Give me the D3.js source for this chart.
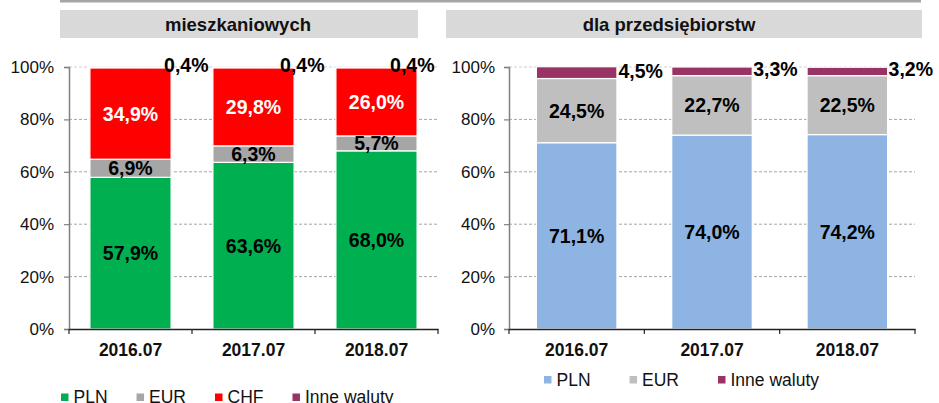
<!DOCTYPE html>
<html>
<head>
<meta charset="utf-8">
<script src="https://cdn.jsdelivr.net/npm/d3@7"></script>
<style>
  body { margin: 0; background: #fff; }
  svg { display: block; font-family: "Liberation Sans", Arial, sans-serif; }
</style>
</head>
<body>
<svg id="chart" width="939" height="403"></svg>
<script>
// data
const categories = ["2016.07", "2017.07", "2018.07"];
const yTicks = [0, 20, 40, 60, 80, 100];

const housingTitle = "mieszkaniowych";
const housingPLN = [57.9, 63.6, 68.0];
const housingEUR = [6.9, 6.3, 5.7];
const housingCHF = [34.9, 29.8, 26.0];
const housingOther = [0.4, 0.4, 0.4];

const firmsTitle = "dla przedsiębiorstw";
const firmsPLN = [71.1, 74.0, 74.2];
const firmsEUR = [24.5, 22.7, 22.5];
const firmsOther = [4.5, 3.3, 3.2];

const seriesNames = { PLN: "PLN", EUR: "EUR", CHF: "CHF", Other: "Inne waluty" };

const svg = d3.select("#chart");
const fmt = v => d3.format(".1f")(v).replace(".", ",") + "%";

// top rule
svg.append("rect").attr("x", 60).attr("y", 0).attr("width", 861).attr("height", 2.5).attr("fill", "#a6a6a6");

function drawPanel(p) {
  const rows = categories.map((c, i) => {
    const r = { cat: c };
    p.keys.forEach(k => r[k] = p.values[k][i]);
    return r;
  });

  const x = d3.scaleBand().domain(categories).range(p.xRange)
    .paddingInner(p.padIn).paddingOuter(p.padIn / 2);
  const y = d3.scaleLinear().domain([0, 100]).range([329, 67]);

  // title box
  svg.append("rect").attr("x", p.box[0]).attr("y", 10).attr("width", p.box[1] - p.box[0]).attr("height", 28)
    .attr("fill", "#d9d9d9");
  svg.append("text").attr("x", p.titleX).attr("y", 31).attr("text-anchor", "middle")
    .attr("font-weight", "bold").attr("font-size", 18.5).attr("fill", "#111").text(p.title);

  const g = svg.append("g");

  // grid
  g.selectAll(".grid").data(yTicks.filter(t => t > 0)).enter().append("line")
    .attr("x1", p.xRange[0]).attr("x2", p.xRange[1])
    .attr("y1", d => y(d)).attr("y2", d => y(d))
    .attr("stroke", d => d === 100 ? "#cfcfcf" : "#a6a6a6").attr("stroke-width", 1)
    .attr("stroke-dasharray", "3,2");

  // bars
  const stack = d3.stack().keys(p.keys)(rows);
  const layers = g.selectAll(".layer").data(stack).enter().append("g")
    .attr("fill", d => p.colors[d.key]);
  layers.selectAll("rect").data(d => d).enter().append("rect")
    .attr("x", d => x(d.data.cat))
    .attr("width", x.bandwidth())
    .attr("y", d => y(d[1]))
    .attr("height", d => y(d[0]) - y(d[1]))
    .attr("stroke", "#fff").attr("stroke-width", 1.2);

  // inside labels
  stack.forEach(layer => {
    if (layer.key === "Other") return;
    g.selectAll(null).data(layer).enter().append("text")
      .attr("x", d => x(d.data.cat) + x.bandwidth() / 2)
      .attr("y", d => (y(d[0]) + y(d[1])) / 2)
      .attr("dy", "0.36em")
      .attr("text-anchor", "middle")
      .attr("font-weight", "bold").attr("font-size", 19.5)
      .attr("fill", p.labelColors[layer.key])
      .text(d => fmt(d.data[layer.key]));
  });

  // "other currencies" labels beside the bar top
  const other = stack.find(l => l.key === "Other");
  g.selectAll(null).data(other).enter().append("text")
    .attr("x", (d, i) => x(d.data.cat) + x.bandwidth() + p.otherNudge[i])
    .attr("y", d => (y(d[0]) + y(d[1])) / 2 + p.otherDy)
    .attr("dy", "0.36em")
    .attr("font-weight", "bold").attr("font-size", 19.5).attr("fill", "#000")
    .text(d => fmt(d.data.Other));

  // y axis
  const ya = g.append("g").attr("transform", `translate(${p.xRange[0]},0)`)
    .call(d3.axisLeft(y).tickValues(yTicks).tickFormat(d => d + "%").tickSize(5).tickPadding(p.yPad));
  ya.select(".domain").attr("stroke", "#808080").attr("stroke-width", 1.5);
  ya.selectAll(".tick line").attr("stroke", "#808080").attr("stroke-width", 1.2);
  ya.selectAll(".tick text").attr("font-size", 17).attr("fill", "#111").attr("font-family", null);

  // x axis
  const xa = g.append("g").attr("transform", "translate(0,329)")
    .call(d3.axisBottom(x).tickSize(0).tickPadding(15));
  xa.select(".domain").attr("stroke", "#222").attr("stroke-width", 1.5);
  xa.selectAll(".tick text").attr("font-size", 17.5).attr("font-weight", "bold")
    .attr("fill", "#111").attr("font-family", null);
  const bounds = d3.range(categories.length + 1).map(i => p.xRange[0] + i * x.step());
  xa.selectAll(".bound").data(bounds).enter().append("line")
    .attr("x1", d => d).attr("x2", d => d).attr("y1", 0).attr("y2", 5)
    .attr("stroke", "#222").attr("stroke-width", 1.2);

  // legend
  let lx = p.legendX;
  p.keys.forEach(k => {
    svg.append("rect").attr("x", lx).attr("y", p.legendY - 9.5).attr("width", 7.5).attr("height", 7.5)
      .attr("fill", p.colors[k]);
    const t = svg.append("text").attr("x", lx + 12.5).attr("y", p.legendY)
      .attr("font-size", 17.5).attr("fill", "#111").text(seriesNames[k]);
    lx += 12.5 + t.node().getComputedTextLength() + p.legendGap;
  });
}

drawPanel({
  title: housingTitle, box: [60, 418], titleX: 238,
  keys: ["PLN", "EUR", "CHF", "Other"],
  values: { PLN: housingPLN, EUR: housingEUR, CHF: housingCHF, Other: housingOther },
  colors: { PLN: "#00b050", EUR: "#a6a6a6", CHF: "#ff0000", Other: "#993366" },
  labelColors: { PLN: "#000", EUR: "#000", CHF: "#fff" },
  xRange: [69, 438], padIn: 0.34, yPad: 10,
  otherNudge: [-7, -14, -27], otherDy: -2.5,
  legendX: 61, legendY: 403, legendGap: 29
});

drawPanel({
  title: firmsTitle, box: [446, 922], titleX: 669,
  keys: ["PLN", "EUR", "Other"],
  values: { PLN: firmsPLN, EUR: firmsEUR, Other: firmsOther },
  colors: { PLN: "#8db4e2", EUR: "#bfbfbf", Other: "#993366" },
  labelColors: { PLN: "#000", EUR: "#000" },
  xRange: [509, 915], padIn: 0.405, yPad: 9,
  otherNudge: [1.5, 1, 1], otherDy: -2,
  legendX: 544, legendY: 385.5, legendGap: 39
});
</script>
</body>
</html>
